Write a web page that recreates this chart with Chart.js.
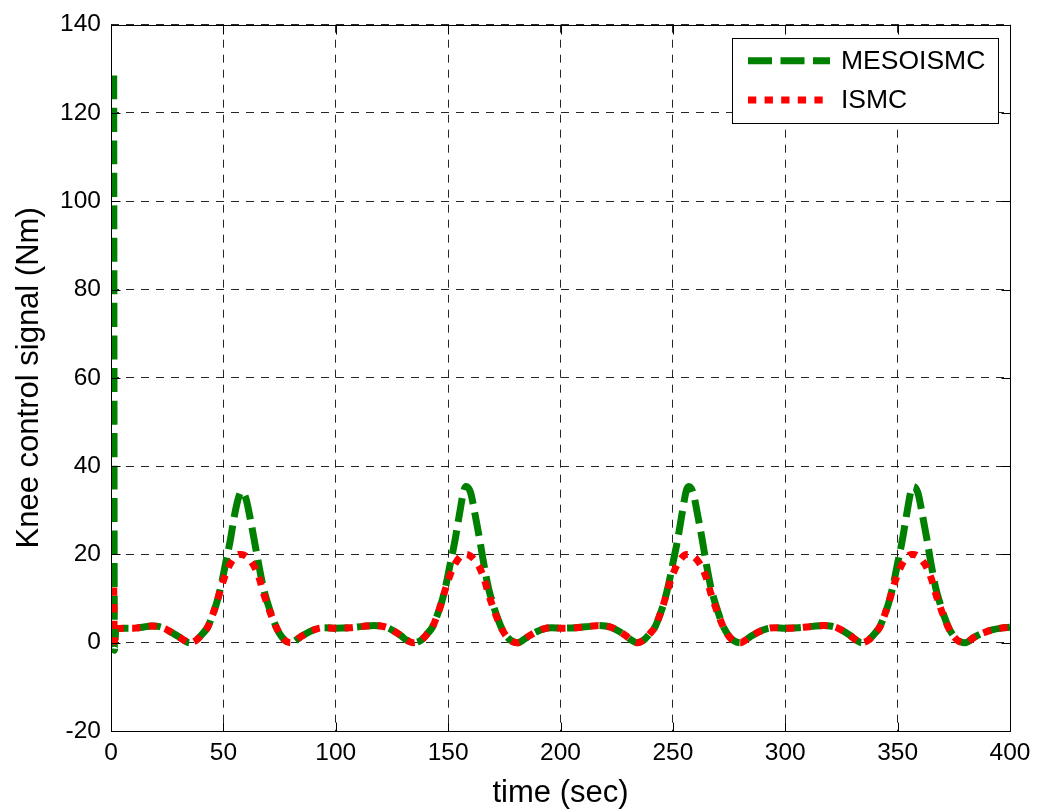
<!DOCTYPE html>
<html>
<head>
<meta charset="utf-8">
<script src="https://cdn.jsdelivr.net/npm/chart.js@4.4.1/dist/chart.umd.min.js"></script>
<style>
  html, body { margin: 0; padding: 0; background: #ffffff; }
  #wrap { width: 1051px; height: 812px; }
</style>
</head>
<body>
<div id="wrap"><canvas id="chart" width="1051" height="812"></canvas></div>
<script>
// Simulation time (sec)
const timeSec = [
  1.2, 1.5, 2.2, 6, 10, 14, 18, 21, 24, 27, 30, 33, 35,
  38, 41, 43, 45, 47, 49, 51, 53, 55, 57, 58, 60, 62, 64, 66, 68, 70, 72, 74, 76, 78, 80,
  84, 88, 92, 95, 100, 106, 112, 117, 120, 123, 126, 129, 131.5, 134.5,
  138, 141, 143, 145, 147, 149, 151, 153, 155, 157, 158, 160, 162, 164, 166, 168, 170, 172, 174, 176, 178, 181,
  185, 189, 193, 196, 201, 207, 213, 217, 220, 223, 226, 229, 231.5, 234,
  237, 240, 242, 244, 246, 248, 250, 252, 254, 256, 257, 259, 261, 263, 265, 267, 269, 271, 273, 275, 277, 280,
  284, 288, 292, 295, 300, 306, 312, 317, 320, 323, 326, 329, 331.5, 334,
  337, 340, 342, 344, 346, 348, 350, 352, 354, 356, 357, 359, 361, 363, 365, 367, 369, 371, 373, 375, 377, 380,
  384, 388, 392, 396, 400
];

// Knee control signal (Nm), MESOISMC controller
const mesoismc = [
  128.5, -1.7, 3.2, 3.3, 3.3, 3.5, 3.8, 3.7, 3.2, 2.3, 1.4, 0.4, 0.0,
  0.6, 2.2, 3.5, 6, 9, 13, 18, 23, 29, 33.3, 34.2, 32.7, 28, 22.5, 17, 12, 8.5, 5.5, 3, 1.3, 0.3, 0,
  1.2, 2.4, 3.2, 3.4, 3.3, 3.4, 3.7, 3.9, 3.8, 3.4, 2.6, 1.6, 0.6, 0,
  0.6, 2.2, 3.5, 6, 9, 13, 18, 23, 29, 34.5, 35.4, 34, 29, 23.5, 17.5, 12.3, 8.7, 5.6, 3.1, 1.5, 0.5, 0,
  1.2, 2.4, 3.2, 3.4, 3.3, 3.4, 3.7, 3.9, 3.8, 3.4, 2.6, 1.6, 0.6, 0,
  0.6, 2.2, 3.5, 6, 9, 13, 18, 23, 29, 34.5, 35.4, 34, 29, 23.5, 17.5, 12.3, 8.7, 5.6, 3.1, 1.5, 0.5, 0,
  1.2, 2.4, 3.2, 3.4, 3.3, 3.4, 3.7, 3.9, 3.8, 3.4, 2.6, 1.6, 0.6, 0,
  0.6, 2.2, 3.5, 6, 9, 13, 18, 23, 29, 34.5, 35.4, 34, 29, 23.5, 17.5, 12.3, 8.7, 5.6, 3.1, 1.5, 0.5, 0,
  1.2, 2.2, 2.9, 3.3, 3.5
];

// Knee control signal (Nm), ISMC controller
const ismc = [
  12.5, 0.3, 3.2, 3.3, 3.3, 3.5, 3.8, 3.7, 3.2, 2.3, 1.4, 0.4, 0.0,
  0.6, 2.2, 3.5, 6, 9, 12.5, 15.5, 17.8, 19.3, 20, 20, 19.6, 18.6, 17, 14.5, 11, 8, 5.3, 3, 1.3, 0.3, 0,
  1.2, 2.4, 3.2, 3.4, 3.3, 3.4, 3.7, 3.9, 3.8, 3.4, 2.6, 1.6, 0.6, 0,
  0.6, 2.2, 3.5, 6, 9, 12.5, 15.5, 17.8, 19.3, 20, 20, 19.6, 18.6, 17, 14.5, 11, 8, 5.3, 3, 1.4, 0.4, 0,
  1.2, 2.4, 3.2, 3.4, 3.3, 3.4, 3.7, 3.9, 3.8, 3.4, 2.6, 1.6, 0.6, 0,
  0.6, 2.2, 3.5, 6, 9, 12.5, 15.5, 17.8, 19.3, 20, 20, 19.6, 18.6, 17, 14.5, 11, 8, 5.3, 3, 1.4, 0.4, 0,
  1.2, 2.4, 3.2, 3.4, 3.3, 3.4, 3.7, 3.9, 3.8, 3.4, 2.6, 1.6, 0.6, 0,
  0.6, 2.2, 3.5, 6, 9, 12.5, 15.5, 17.8, 19.3, 20, 20, 19.6, 18.6, 17, 14.5, 11, 8, 5.3, 3, 1.4, 0.4, 0,
  1.2, 2.2, 2.9, 3.3, 3.5
];

const seriesNames = ['MESOISMC', 'ISMC'];
const xTickValues = [0, 50, 100, 150, 200, 250, 300, 350, 400];
const yTickValues = [-20, 0, 20, 40, 60, 80, 100, 120, 140];
const xTitle = 'time (sec)';
const yTitle = 'Knee control signal (Nm)';

const FONT = "'Liberation Sans', Arial, Helvetica, sans-serif";
const toPoints = vals => timeSec.map((t, i) => ({ x: t, y: vals[i] }));

// Box around the axes, inward tick marks and a boxed legend
const framePlugin = {
  id: 'frame',
  afterDatasetsDraw(chart) {
    const { ctx, chartArea: a, scales: { x, y } } = chart;
    ctx.save();
    ctx.strokeStyle = '#000';
    ctx.lineWidth = 1;
    ctx.setLineDash([]);
    const L = Math.round(a.left) + 0.5, R = Math.round(a.right) + 0.5;
    const T = Math.round(a.top) + 0.5, B = Math.round(a.bottom) + 0.5;
    ctx.strokeRect(L, T, R - L, B - T);
    const tl = 9;
    ctx.beginPath();
    xTickValues.forEach(v => {
      const px = Math.round(x.getPixelForValue(v)) + 0.5;
      ctx.moveTo(px, B); ctx.lineTo(px, B - tl);
      ctx.moveTo(px, T); ctx.lineTo(px, T + tl);
    });
    yTickValues.forEach(v => {
      const py = Math.round(y.getPixelForValue(v)) + 0.5;
      ctx.moveTo(L, py); ctx.lineTo(L + tl, py);
      ctx.moveTo(R, py); ctx.lineTo(R - tl, py);
    });
    ctx.stroke();

    // legend
    const bx = 732.5, by = 38.5, bw = 266, bh = 85;
    ctx.fillStyle = '#fff';
    ctx.fillRect(bx, by, bw, bh);
    ctx.strokeStyle = '#000';
    ctx.strokeRect(bx, by, bw, bh);
    const rows = [60.7, 100];
    seriesNames.forEach((name, i) => {
      const ds = chart.data.datasets.find(d => d.label === name);
      const yy = rows[i];
      ctx.save();
      ctx.strokeStyle = ds.borderColor;
      ctx.lineWidth = ds.borderWidth;
      ctx.lineCap = 'butt';
      ctx.setLineDash(ds.borderDash);
      ctx.beginPath();
      ctx.moveTo(748, yy);
      ctx.lineTo(830, yy);
      ctx.stroke();
      ctx.restore();
      ctx.fillStyle = '#000';
      ctx.font = '26.5px ' + FONT;
      ctx.textAlign = 'left';
      ctx.textBaseline = 'middle';
      ctx.fillText(name, 841, yy + 1);
    });
    ctx.restore();
  }
};

new Chart(document.getElementById('chart'), {
  type: 'line',
  data: {
    datasets: [
      {
        label: seriesNames[1],
        data: toPoints(ismc),
        borderColor: '#ff0000',
        borderWidth: 7,
        borderDash: [8.3, 8.3],
        borderCapStyle: 'butt',
        borderJoinStyle: 'round',
        pointRadius: 0,
        cubicInterpolationMode: 'monotone',
        clip: 0,
        order: 0
      },
      {
        label: seriesNames[0],
        data: toPoints(mesoismc),
        borderColor: '#008000',
        borderWidth: 7,
        borderDash: [24, 8.5],
        borderCapStyle: 'butt',
        borderJoinStyle: 'round',
        pointRadius: 0,
        cubicInterpolationMode: 'monotone',
        clip: 0,
        order: 1
      }
    ]
  },
  options: {
    responsive: false,
    animation: false,
    devicePixelRatio: 1,
    layout: { padding: { left: 0, top: 22, right: 41, bottom: 0 } },
    plugins: { legend: { display: false }, tooltip: { enabled: false } },
    scales: {
      x: {
        type: 'linear',
        min: 0, max: 400,
        afterBuildTicks: s => { s.ticks = xTickValues.map(v => ({ value: v })); },
        afterFit: s => { s.height = 81; },
        grid: { color: 'rgba(0,0,0,0.85)', lineWidth: 1, drawTicks: false },
        border: { display: false, dash: [8, 7] },
        ticks: { color: '#000', font: { family: FONT, size: 24.5 }, padding: 8, maxRotation: 0 },
        title: { display: true, text: xTitle, color: '#000', font: { family: FONT, size: 31 }, padding: { top: 0, bottom: 0 } }
      },
      y: {
        type: 'linear',
        min: -20, max: 140,
        afterBuildTicks: s => { s.ticks = yTickValues.map(v => ({ value: v })); },
        afterFit: s => { s.width = 111; },
        grid: { color: 'rgba(0,0,0,0.85)', lineWidth: 1, drawTicks: false },
        border: { display: false, dash: [8, 7] },
        ticks: { color: '#000', font: { family: FONT, size: 24.5 }, padding: 10 },
        title: { display: true, text: yTitle, color: '#000', font: { family: FONT, size: 31 }, padding: { top: 11, bottom: 0 } }
      }
    }
  },
  plugins: [framePlugin]
});
</script>
</body>
</html>
